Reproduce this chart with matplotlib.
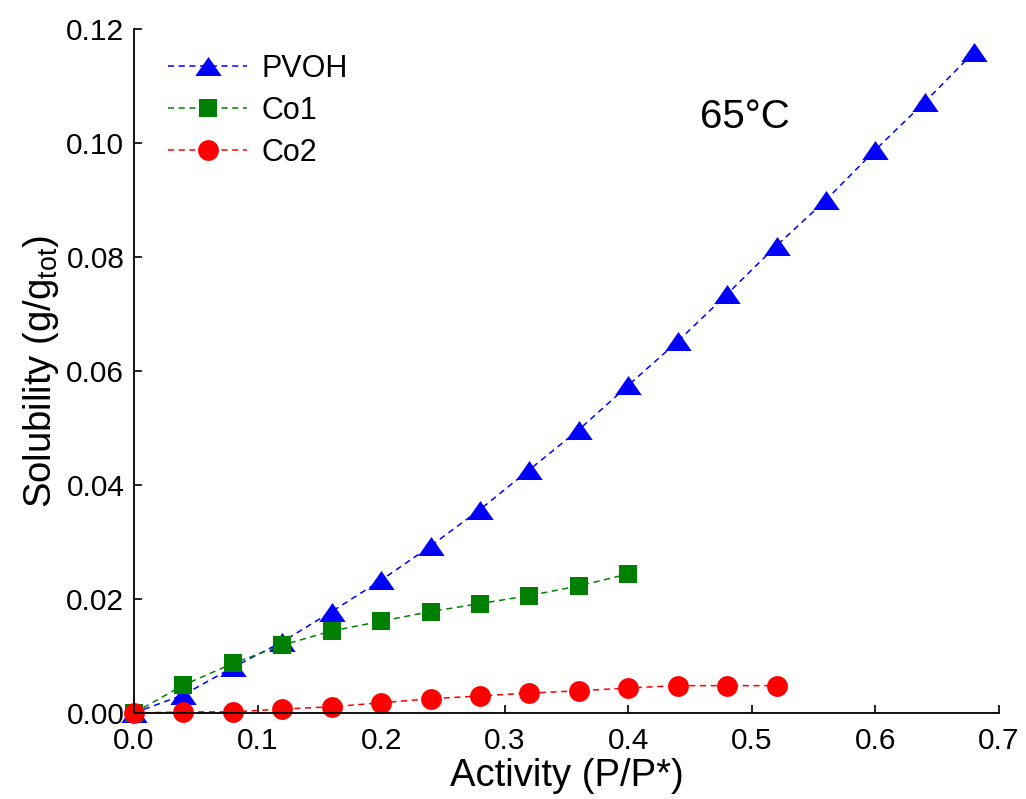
import matplotlib
matplotlib.use("Agg")
import matplotlib.pyplot as plt

plt.rcParams['font.family'] = ['Liberation Sans', 'DejaVu Sans']
plt.rcParams['mathtext.fontset'] = 'custom'
plt.rcParams['mathtext.rm'] = 'Liberation Sans'
plt.rcParams['mathtext.it'] = 'Liberation Sans'

activity_pvoh = [0.0, 0.04, 0.08, 0.12, 0.16, 0.20, 0.24, 0.28, 0.32, 0.36,
                 0.40, 0.44, 0.48, 0.52, 0.56, 0.60, 0.64, 0.68]
sol_pvoh = [0.0, 0.0032, 0.0080, 0.0125, 0.0178, 0.0233, 0.0293, 0.0357, 0.0427,
            0.0497, 0.0575, 0.0652, 0.0735, 0.0820, 0.0900, 0.0988, 0.1072, 0.1160]

activity_co1 = [0.0, 0.04, 0.08, 0.12, 0.16, 0.20, 0.24, 0.28, 0.32, 0.36, 0.40]
sol_co1 = [0.0, 0.0049, 0.0087, 0.0119, 0.0144, 0.0161, 0.0178, 0.0192, 0.0206,
           0.0223, 0.0244]

activity_co2 = [0.0, 0.04, 0.08, 0.12, 0.16, 0.20, 0.24, 0.28, 0.32, 0.36,
                0.40, 0.44, 0.48, 0.52]
sol_co2 = [0.0, 0.0002, 0.0002, 0.0007, 0.0011, 0.0018, 0.0025, 0.0030, 0.0035,
           0.0039, 0.0044, 0.0048, 0.0048, 0.0048]

# wide, flat triangle marker
tri = [(0, 0.72), (-1, -0.72), (1, -0.72), (0, 0.72)]
dash = (0, (4, 3))

fig = plt.figure(figsize=(10.26, 7.99), dpi=100)
ax = fig.add_axes([0.1306, 0.1076, 0.8431, 0.8561])

ax.plot(activity_pvoh, sol_pvoh, color='#0000ff', linestyle=dash, linewidth=1.1,
        marker=tri, markersize=19, markeredgewidth=0, label='PVOH', clip_on=False)
ax.plot(activity_co1, sol_co1, color='#008000', linestyle=dash, linewidth=1.1,
        marker='s', markersize=13, markeredgewidth=0, label='Co1', clip_on=False)
ax.plot(activity_co2, sol_co2, color='#ff0000', linestyle=dash, linewidth=1.1,
        marker='o', markersize=15, markeredgewidth=0, label='Co2', clip_on=False)

ax.set_xlim(0, 0.7)
ax.set_ylim(0, 0.12)
ax.set_xticks([0.0, 0.1, 0.2, 0.3, 0.4, 0.5, 0.6, 0.7])
ax.set_yticks([0.0, 0.02, 0.04, 0.06, 0.08, 0.10, 0.12])
ax.xaxis.set_major_formatter(matplotlib.ticker.FormatStrFormatter('%.1f'))
ax.yaxis.set_major_formatter(matplotlib.ticker.FormatStrFormatter('%.2f'))
ax.tick_params(direction='in', length=6, width=1.2, labelsize=21.5)
ax.tick_params(axis='x', pad=10)
ax.tick_params(axis='y', pad=7)

for side in ['top', 'right']:
    ax.spines[side].set_visible(False)
for side in ['left', 'bottom']:
    ax.spines[side].set_linewidth(1.3)

ax.set_xlabel('Activity (P/P*)', fontsize=27.5, labelpad=2)
ax.set_ylabel(r'$\mathregular{Solubility\ (g/g_{tot})}$', fontsize=27.5, labelpad=4)

ax.text(0.494, 0.1045, '65°C', fontsize=29, ha='center', va='center')

ax.legend(loc='upper left', bbox_to_anchor=(0.025, 0.982), frameon=False,
          fontsize=22, handlelength=2.6, labelspacing=0.4, handletextpad=0.45,
          borderaxespad=0)

fig.savefig('out.png', dpi=100)
